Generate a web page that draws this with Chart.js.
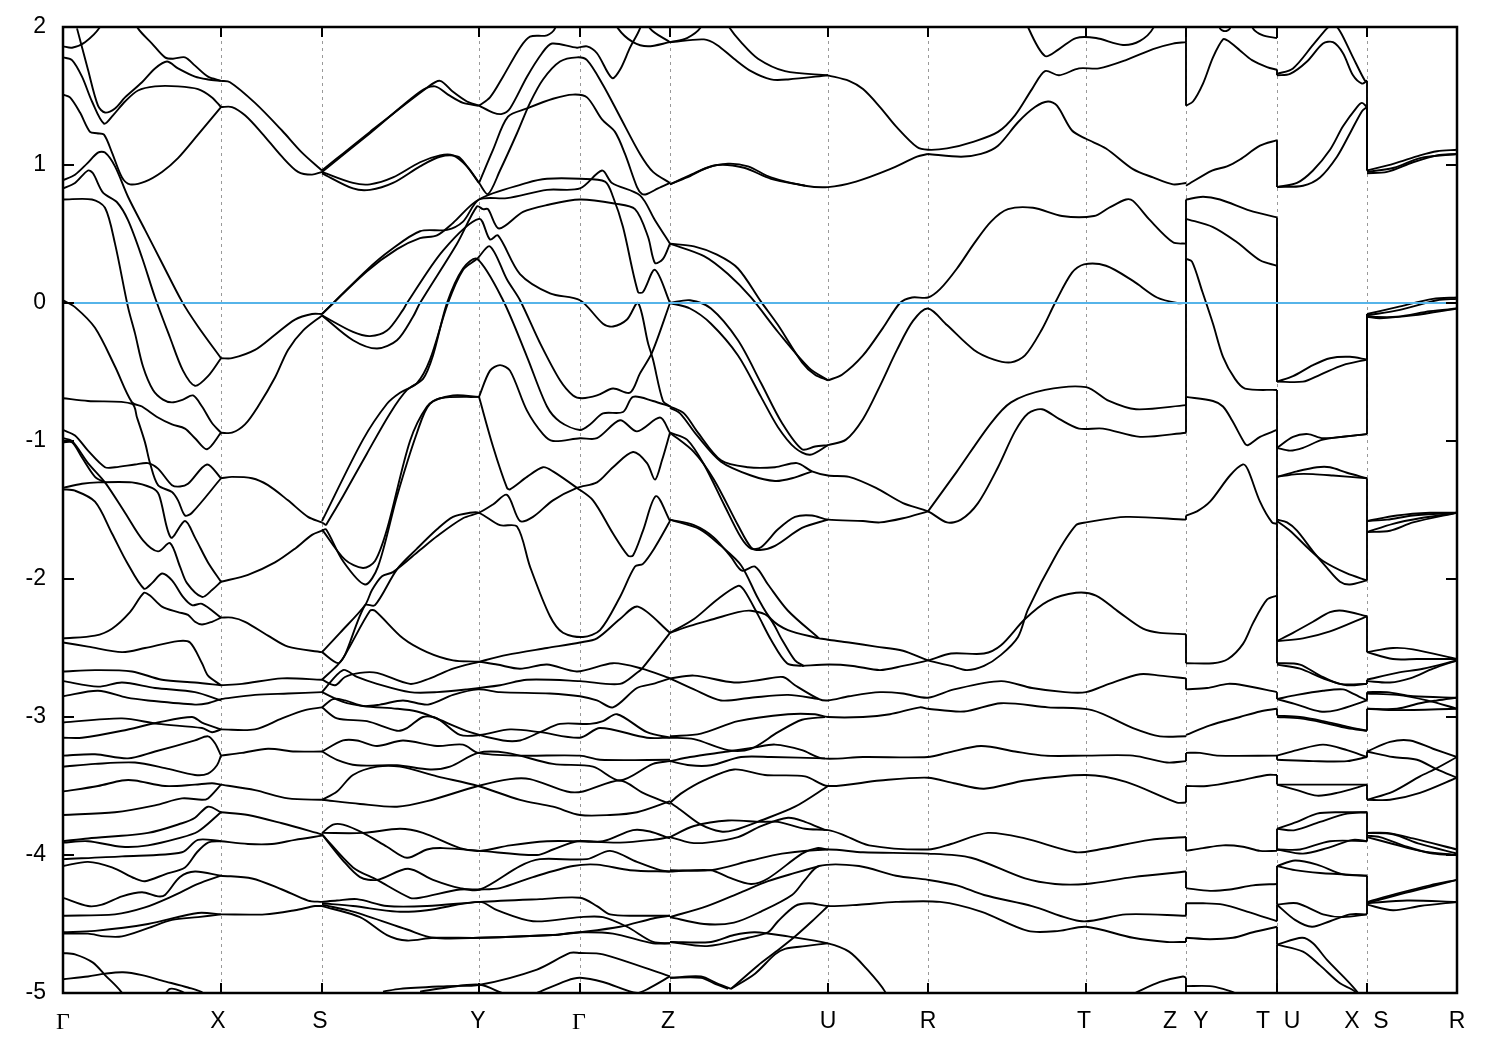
<!DOCTYPE html>
<html>
<head>
<meta charset="utf-8">
<title>Band structure</title>
<script src="https://cdn.jsdelivr.net/npm/chart.js@4/dist/chart.umd.js"></script>
<style>
  html, body { margin: 0; padding: 0; background: #fff; }
  canvas { display: block; }
</style>
</head>
<body>
<canvas id="bands" width="1500" height="1050"></canvas>
<script>
// k path positions and labels
const tickK = [0, 158, 259, 416, 517, 607, 765, 865, 1023, 1123, 1214, 1304, 1394];
const labelK = [0, 155, 257, 415, 516, 605, 765, 865, 1021, 1107, 1138, 1200, 1229, 1289, 1318, 1394];
const labelNames = ['Γ', 'X', 'S', 'Y', 'Γ', 'Z', 'U', 'R', 'T', 'Z', 'Y', 'T', 'U', 'X', 'S', 'R'];
const energyMin = -5;
const energyMax = 2;
const zeroK = [0, 1394];
const zeroE = [0, 0];

// every band below is a flat list: k, E, k, E, ...
// Gamma -> X
const gx1 = [0,1.86,9,1.85,22,1.89,37,2.0,50,2.2];
const gx2 = [14,1.99,25,1.69,35,1.43,42,1.38,52,1.41,62,1.49,79,1.60,92,1.70,104,1.75,115,1.70,132,1.64,145,1.62,158,1.61];
const gx3 = [0,1.78,9,1.76,19,1.64,29,1.46,41,1.30,50,1.36,62,1.46,75,1.54,92,1.57,115,1.57,135,1.55,149,1.49,158,1.42];
const gx4 = [60,2.2,75,1.99,89,1.88,102,1.78,110,1.77,122,1.78,132,1.72,145,1.64,158,1.61];
const gx5 = [0,1.51,7,1.49,17,1.38,27,1.24,34,1.23,41,1.22,49,1.09,59,.91,67,.86,82,.88,99,.95,115,1.05,135,1.22,158,1.42];
const gx6 = [0,.89,12,.93,24,1.01,35,1.09,42,1.09,52,.99,65,.77,82,.53,99,.29,119,.01,135,-.17,158,-.40];
const gx7 = [0,.83,12,.87,25,.96,30,.94,40,.80,54,.73,65,.60,79,.33,92,.04,107,-.25,120,-.49,132,-.60,145,-.53,158,-.40];
const gx8 = [0,.75,29,.75,42,.69,52,.43,65,-.03,72,-.22,80,-.46,90,-.63,100,-.70,109,-.72,120,-.70,130,-.67,139,-.75,149,-.87,158,-.94];
const gx9 = [0,.02,12,-.03,32,-.18,52,-.46,69,-.72,79,-.75,95,-.83,109,-.88,122,-.91,132,-.98,144,-1.06,158,-.94];
const gx10 = [0,-.69,25,-.71,69,-.73,74,-.83,82,-1.01,87,-1.16,95,-1.32,109,-1.37,115,-1.43,122,-1.54,129,-1.52,158,-1.27];
const gx11 = [0,-.92,12,-.96,25,-1.07,42,-1.19,52,-1.19,72,-1.17,85,-1.16,95,-1.20,109,-1.32,117,-1.33,125,-1.31,144,-1.17,158,-1.27];
const gx12 = [0,-.98,9,-1.0,25,-1.16,42,-1.30,62,-1.52,80,-1.72,95,-1.80,107,-1.74,117,-1.91,124,-2.03,139,-2.13,149,-2.08,158,-2.02];
const gx13 = [0,-1.01,9,-1.01,19,-1.12,32,-1.26,42,-1.30];
const gx14 = [0,-1.34,19,-1.31,35,-1.30,69,-1.30,89,-1.34,96,-1.39,108,-1.70,122,-1.58,132,-1.70,145,-1.88,158,-2.02];
const gx15 = [0,-1.35,12,-1.36,32,-1.44,49,-1.67,64,-1.88,81,-2.07,89,-2.03,99,-1.96,109,-2.01,120,-2.13,129,-2.19,139,-2.18,158,-2.28];
const gx16 = [0,-2.43,32,-2.41,49,-2.36,67,-2.24,81,-2.10,87,-2.12,99,-2.20,115,-2.24,125,-2.26,132,-2.31,139,-2.33,149,-2.31,158,-2.28];
const gx17 = [0,-2.46,25,-2.49,59,-2.53,82,-2.50,115,-2.45,127,-2.46,139,-2.61,145,-2.70,158,-2.77];
const gx18 = [0,-2.67,32,-2.66,69,-2.67,99,-2.73,132,-2.75,158,-2.77];
const gx19 = [0,-2.74,35,-2.78,59,-2.75,92,-2.79,132,-2.82,158,-2.88];
const gx20 = [0,-2.85,35,-2.81,64,-2.86,85,-2.88,132,-2.91,145,-2.90,158,-2.87];
const gx21 = [0,-3.04,59,-3.01,95,-3.05,139,-3.08,149,-3.11,158,-3.09];
const gx22 = [0,-3.15,19,-3.15,59,-3.10,95,-3.04,129,-3.00,139,-3.04,158,-3.09];
const gx23 = [0,-3.28,32,-3.27,65,-3.30,92,-3.25,132,-3.17,145,-3.14,152,-3.19,158,-3.28];
const gx24 = [0,-3.36,32,-3.34,72,-3.33,102,-3.37,132,-3.42,145,-3.41,154,-3.35,158,-3.28];
const gx25 = [0,-3.54,35,-3.50,59,-3.46,72,-3.46,102,-3.50,132,-3.49,149,-3.48,158,-3.49];
const gx26 = [0,-3.71,52,-3.69,92,-3.64,119,-3.59,139,-3.60,145,-3.59,158,-3.49];
const gx27 = [0,-3.90,25,-3.88,85,-3.84,119,-3.77,132,-3.73,145,-3.65,158,-3.69];
const gx28 = [0,-3.91,25,-3.90,59,-3.94,85,-3.93,115,-3.88,135,-3.83,158,-3.69];
const gx29 = [0,-4.03,59,-4.01,119,-3.98,135,-3.89,158,-3.90];
const gx30 = [0,-4.08,25,-4.05,49,-4.09,72,-4.17,82,-4.19,102,-4.14,122,-4.09,134,-3.98,145,-3.91,158,-3.90];
const gx31 = [0,-4.31,25,-4.37,39,-4.36,59,-4.30,79,-4.27,95,-4.30,102,-4.29,117,-4.16,132,-4.12,158,-4.15];
const gx32 = [0,-4.44,52,-4.43,82,-4.38,109,-4.30,135,-4.21,158,-4.15];
const gx33 = [0,-4.56,32,-4.55,85,-4.50,135,-4.42,158,-4.43];
const gx34 = [0,-4.57,25,-4.57,42,-4.59,59,-4.59,85,-4.53,109,-4.47,135,-4.45,158,-4.43];
const gx35 = [0,-4.71,12,-4.72,30,-4.78,42,-4.87,58,-4.99,65,-5.1];
const gx36 = [0,-4.90,25,-4.88,42,-4.86,60,-4.85,79,-4.87,99,-4.91,125,-4.96,140,-5.0,150,-5.1];
const gx37 = [98,-5.05,107,-4.97,119,-4.99,132,-5.05];

// X -> S
const xs1 = [158,1.61,167,1.60,192,1.45,219,1.25,239,1.09,259,.96];
const xs2 = [158,1.42,169,1.42,182,1.36,199,1.23,219,1.06,235,.95,249,.93,259,.95];
const xs3 = [158,-.40,169,-.40,192,-.34,212,-.23,232,-.12,249,-.08,259,-.08];
const xs4 = [158,-.94,169,-.94,182,-.88,195,-.75,212,-.54,225,-.34,240,-.20,259,-.09];
const xs5 = [158,-1.27,169,-1.26,189,-1.27,205,-1.32,225,-1.43,245,-1.55,259,-1.59];
const xs6 = [158,-2.02,185,-1.97,212,-1.88,232,-1.78,249,-1.68,259,-1.65];
const xs7 = [158,-2.28,169,-2.28,182,-2.31,205,-2.41,225,-2.49,259,-2.53];
const xs8 = [158,-2.77,179,-2.76,219,-2.72,259,-2.73];
const xs9 = [158,-2.87,192,-2.84,225,-2.83,259,-2.82];
const xs10 = [158,-3.09,192,-3.09,219,-3.01,242,-2.95,259,-2.93];
const xs11 = [158,-3.28,179,-3.26,205,-3.23,232,-3.25,259,-3.25];
const xs12 = [158,-3.49,192,-3.53,225,-3.59,259,-3.60];
const xs13 = [158,-3.69,185,-3.71,219,-3.77,259,-3.85];
const xs14 = [158,-3.90,185,-3.92,209,-3.92,232,-3.89,259,-3.86];
const xs15 = [158,-4.15,189,-4.17,219,-4.25,245,-4.33,259,-4.34];
const xs16 = [158,-4.43,202,-4.43,232,-4.40,252,-4.37,259,-4.37];

// S -> Y -> Gamma -> Z
const sz1 = [259,.96,307,1.24,364,1.56,377,1.61,390,1.53,404,1.46,416,1.43];
const sz2 = [259,.95,307,1.23,357,1.53,372,1.57,385,1.51,400,1.45,416,1.43];
const sz3 = [416,1.43,427,1.49,440,1.64,457,1.85,467,1.93,484,1.94,492,1.99,505,2.3];
const sz4 = [416,1.43,430,1.38,439,1.37,447,1.41,464,1.64,479,1.81,489,1.88,514,1.85,524,1.86,534,1.81,549,1.63,557,1.69,567,1.85,577,1.99,590,2.3];
const sz5 = [540,2.2,555,1.99,570,1.89,585,1.86,607,1.89];
const sz6 = [575,2.2,587,1.99,607,1.89];
const sz7 = [259,.95,290,.87,307,.86,330,.91,357,1.02,377,1.07,390,1.07,404,.99,416,.87];
const sz8 = [259,.94,290,.83,307,.82,330,.87,357,.99,377,1.06,395,1.06,404,.99,416,.87];
const sz9 = [416,.87,425,.79,437,.96,454,1.23,467,1.45,480,1.62,497,1.75,514,1.78,524,1.76,540,1.58,557,1.35,577,1.08,590,.95,607,.87];
const sz10 = [416,.87,430,1.11,445,1.35,464,1.41,490,1.48,510,1.51,524,1.49,539,1.33,552,1.24,562,1.08,574,.84,579,.79,584,.79,595,.83,607,.87];
const sz11 = [259,-.08,304,.24,327,.38,357,.52,384,.53,400,.59,416,.75,464,.87,484,.90,517,.90,542,.88,550,.77,560,.55,575,.08,580,.08,592,.24,607,0];
const sz12 = [259,-.08,304,.23,334,.39,357,.47,374,.49,390,.58,416,.75,444,.76,484,.82,517,.83,539,.96,549,.87,577,.78,592,.60,607,.43];
const sz13 = [259,-.09,290,-.21,307,-.24,324,-.2,340,-.05,344,0,380,.38,416,.61,427,.46,435,.49,457,.21,487,.07,517,.02,540,-.15,550,-.17,564,-.12,575,0,585,-.29,590,-.41,600,-.71,607,-.75];
const sz14 = [259,-.09,290,-.27,314,-.33,334,-.27,350,-.10,357,0,394,.43,414,.70,420,.68,425,.68,436,.54,460,.66,484,.71,517,.75,552,.72,572,.68,585,.48,592,.29,600,.32,607,.43];
const sz15 = [259,-1.58,300,-.99,324,-.73,337,-.65,354,-.58,367,-.41,385,0,400,.24,414,.32,427,.41,444,.17,457,.02,477,-.29,497,-.56,510,-.67,519,-.69,534,-.67,550,-.62,567,-.65,577,-.51,589,-.36,607,0];
const sz16 = [263,-1.61,280,-1.40,304,-1.09,327,-.80,344,-.63,360,-.55,370,-.38,384,0,400,.25,414,.32,440,.02,464,-.39,484,-.75,497,-.86,517,-.92,527,-.88,540,-.80,560,-.79,570,-.68,590,-.71,607,-.75];
const sz17 = [259,-1.59,263,-1.61];
const sz18 = [259,-1.64,282,-1.86,300,-1.92,312,-1.87,324,-1.64,347,-1.0,364,-.75,377,-.69,416,-.68];
const sz19 = [259,-1.65,263,-1.64,280,-1.87,302,-2.04,315,-1.91,334,-1.40,354,-.94,367,-.73,390,-.67,416,-.68];
const sz20 = [416,-.68,427,-.49,437,-.45,447,-.49,464,-.78,480,-.95,490,-1.0,517,-.98,534,-.98,557,-.85,574,-.93,597,-.83,607,-.94];
const sz21 = [416,-.68,430,-1.04,444,-1.34,447,-1.35,464,-1.26,480,-1.19,490,-1.22,514,-1.34,530,-1.43,550,-1.67,565,-1.83,570,-1.83,580,-1.65,593,-1.40,607,-1.58];
const sz22 = [259,-2.53,277,-2.39,302,-2.19,309,-2.08,319,-1.98,330,-1.95,357,-1.79,374,-1.69,400,-1.56,416,-1.52,430,-1.46,444,-1.39,457,-1.58,470,-1.55,490,-1.43,514,-1.34,534,-1.30,550,-1.19,570,-1.08,584,-1.16,592,-1.28,599,-1.14,607,-.94];
const sz23 = [259,-2.73,275,-2.62,282,-2.55,302,-2.19,312,-2.19,334,-1.93,354,-1.78,374,-1.64,390,-1.55,407,-1.52,416,-1.52,437,-1.61,454,-1.62,467,-1.91,487,-2.27,500,-2.39,520,-2.42,537,-2.37,557,-2.13,572,-1.91,580,-1.89,592,-1.77,607,-1.58];
const sz24 = [259,-2.53,275,-2.61,282,-2.55,307,-2.23,312,-2.23,340,-2.43,364,-2.53,390,-2.59,416,-2.60,434,-2.62,457,-2.65,484,-2.62,514,-2.67,550,-2.61,579,-2.65,607,-2.72];
const sz25 = [259,-2.73,272,-2.77,282,-2.71,297,-2.68,314,-2.68,347,-2.76,367,-2.72,390,-2.65,416,-2.60,444,-2.55,484,-2.50,517,-2.46,534,-2.43,557,-2.29,575,-2.20,607,-2.39];
const sz26 = [259,-2.82,280,-2.66,294,-2.71,314,-2.76,347,-2.82,374,-2.82,404,-2.80,437,-2.77,464,-2.73,517,-2.74,557,-2.76,574,-2.68,579,-2.65,607,-2.39];
const sz27 = [259,-2.82,280,-2.89,300,-2.92,334,-2.94,354,-2.96,370,-3.0,407,-3.11,440,-3.17,457,-3.17,477,-3.11,497,-3.05,527,-3.05,540,-3.03,554,-2.98,584,-3.11,607,-3.15];
const sz28 = [259,-2.93,270,-2.87,282,-2.88,300,-2.92,317,-2.91,340,-2.88,365,-2.91,390,-2.84,415,-2.80,437,-2.82,487,-2.83,517,-2.85,534,-2.88,550,-2.93,574,-2.79,590,-2.76,607,-2.72];
const sz29 = [259,-2.93,274,-3.01,304,-3.03,334,-3.10,344,-3.08,360,-3.0,374,-3.01,397,-3.13,417,-3.13,447,-3.09,477,-3.11,517,-3.15,537,-3.08,584,-3.15,607,-3.15];
const sz30 = [259,-3.25,280,-3.17,294,-3.17,314,-3.21,340,-3.17,374,-3.21,400,-3.20,415,-3.26,457,-3.28,517,-3.28,537,-3.31,607,-3.31];
const sz31 = [259,-3.25,274,-3.31,294,-3.35,334,-3.35,367,-3.38,387,-3.36,415,-3.26,444,-3.26,490,-3.34,530,-3.36,557,-3.46,590,-3.34,607,-3.32];
const sz32 = [259,-3.60,274,-3.54,290,-3.42,314,-3.36,337,-3.36,374,-3.43,415,-3.50,457,-3.60,490,-3.65,517,-3.71,547,-3.71,574,-3.69,607,-3.61];
const sz33 = [259,-3.60,297,-3.63,334,-3.65,364,-3.61,415,-3.50,447,-3.45,467,-3.45,504,-3.54,520,-3.54,557,-3.46,580,-3.55,607,-3.63];
const sz34 = [259,-3.84,270,-3.78,280,-3.78,300,-3.84,324,-3.94,344,-4.02,364,-3.96,380,-3.95,417,-3.97,474,-4.0,490,-3.96,514,-3.90,540,-3.90,570,-3.82,587,-3.83,607,-3.88];
const sz35 = [259,-3.84,300,-3.84,337,-3.81,360,-3.84,397,-3.95,417,-3.97,447,-3.93,484,-3.90,514,-3.90,557,-3.91,590,-3.89,607,-3.87];
const sz36 = [259,-3.85,280,-4.04,297,-4.16,314,-4.18,345,-4.10,370,-4.18,397,-4.24,417,-4.25,457,-4.08,477,-4.03,524,-4.03,547,-3.97,574,-4.05,597,-4.11,607,-4.12];
const sz37 = [259,-3.85,290,-4.09,314,-4.18,347,-4.31,357,-4.31,397,-4.25,417,-4.25,437,-4.24,470,-4.16,510,-4.08,534,-4.07,567,-4.11,607,-4.12];
const sz38 = [259,-4.34,274,-4.33,294,-4.32,324,-4.37,364,-4.37,417,-4.34,477,-4.32,517,-4.31,534,-4.37,547,-4.43,574,-4.44,607,-4.44];
const sz39 = [259,-4.35,290,-4.37,334,-4.41,364,-4.40,417,-4.34,434,-4.40,470,-4.48,517,-4.45,540,-4.45,564,-4.52,590,-4.63,607,-4.64];
const sz40 = [259,-4.36,290,-4.41,344,-4.54,370,-4.60,417,-4.60,490,-4.58,517,-4.56,557,-4.52,590,-4.46,607,-4.44];
const sz41 = [259,-4.37,297,-4.45,324,-4.58,344,-4.62,370,-4.60,417,-4.60,490,-4.58,517,-4.56,550,-4.57,590,-4.64,607,-4.64];
const sz42 = [320,-4.99,337,-4.97,384,-4.95,417,-4.94,474,-4.83,507,-4.71,517,-4.71,540,-4.72,607,-4.88];
const sz43 = [357,-4.99,384,-4.96,417,-4.94,439,-5.0];
const sz44 = [474,-5.0,504,-4.91,517,-4.89,540,-4.92,574,-5.0,585,-4.97,607,-4.88];

// Z -> U -> R -> T -> Z
const zz1 = [650,2.2,666,2.0,678,1.89,695,1.77,722,1.68,765,1.65];
const zz2 = [607,1.89,641,1.91,654,1.87,671,1.77,688,1.68,708,1.62,725,1.62,765,1.65];
const zz3 = [607,1.89,624,1.92,638,2.0,650,2.2];
const zz4 = [765,1.65,786,1.61,800,1.55,817,1.42,833,1.28,854,1.13,865,1.11,884,1.12,911,1.17,935,1.24,952,1.36,969,1.55,982,1.68,996,1.65,1016,1.70,1036,1.70,1063,1.76,1090,1.84,1110,1.88,1123,1.89];
const zz5 = [865,1.08,898,1.06,918,1.08,935,1.14,955,1.31,972,1.42,985,1.46,994,1.43,1009,1.25,1023,1.19,1043,1.12,1070,.97,1090,.91,1110,.86,1123,.87];
const zz6 = [607,.86,624,.91,644,.98,665,1.01,685,.99,708,.91,742,.85,765,.84,793,.88,827,.97,854,1.06,865,1.08];
const zz7 = [607,.86,631,.94,654,1.0,681,.98,708,.90,742,.85];
const zz8 = [950,2.3,965,2.0,982,1.79,996,1.84,1013,1.92,1033,1.92,1060,1.87,1077,1.90,1090,1.99,1100,2.2];
const zz9 = [607,.43,631,.41,654,.35,675,.25,698,.01,715,-.16,739,-.43,752,-.52,765,-.56];
const zz10 = [607,.43,641,.34,665,.21,688,.04,715,-.21,746,-.47,765,-.56];
const zz11 = [765,-.56,779,-.52,800,-.38,820,-.18,837,0,849,.04,865,.04,877,.10,894,.25,911,.43,928,.59,945,.68,970,.69,999,.63,1031,.63,1046,.69,1063,.75,1070,.74,1087,.60,1110,.44,1123,.43];
const zz12 = [607,0,627,.02,648,-.04,675,-.27,698,-.58,719,-.87,739,-1.06,752,-1.04,765,-1.03];
const zz13 = [607,0,627,-.04,648,-.15,675,-.38,698,-.68,715,-.90,732,-1.05,747,-1.10,765,-1.03];
const zz14 = [765,-1.03,783,-.99,800,-.84,817,-.60,834,-.34,850,-.13,865,-.04,884,-.16,911,-.34,931,-.41,948,-.43,962,-.38,979,-.19,992,0,1009,.22,1021,.28,1043,.27,1070,.16,1094,.04,1114,0,1123,0];
const zz15 = [607,-.75,621,-.80,634,-.93,658,-1.14,685,-1.19,712,-1.19,734,-1.16,749,-1.22,765,-1.25,786,-1.26,813,-1.34,840,-1.45,865,-1.51,884,-1.59,898,-1.57,915,-1.45,935,-1.19,952,-.93,965,-.80,979,-.77,996,-.84,1016,-.91,1040,-.91,1077,-.97,1123,-.94];
const zz16 = [607,-.76,617,-.80,634,-.96,658,-1.15,688,-1.25,712,-1.29,729,-1.27,749,-1.22];
const zz17 = [865,-1.51,894,-1.22,928,-.87,948,-.72,982,-.63,1023,-.61,1046,-.71,1073,-.77,1123,-.74];
const zz18 = [607,-.94,624,-.99,641,-1.17,661,-1.46,678,-1.70,688,-1.78,698,-1.77,715,-1.64,732,-1.55,749,-1.54,765,-1.57,800,-1.58,817,-1.59,840,-1.56,865,-1.51];
const zz19 = [607,-.94,631,-1.08,651,-1.28,675,-1.61,688,-1.77,697,-1.79,712,-1.76,739,-1.63,765,-1.57];
const zz20 = [607,-1.57,631,-1.61,651,-1.70,668,-1.84,679,-1.94,692,-1.91,705,-2.04,725,-2.23,756,-2.43];
const zz21 = [607,-1.57,637,-1.64,658,-1.76,678,-1.90,695,-2.14,708,-2.29,725,-2.37,756,-2.43];
const zz22 = [756,-2.43,765,-2.44,786,-2.46,813,-2.49,840,-2.52,865,-2.59,888,-2.63,904,-2.66,921,-2.63,938,-2.55,955,-2.42,965,-2.22,992,-1.84,1013,-1.61,1023,-1.59,1063,-1.55,1123,-1.57];
const zz23 = [739,-2.63,766,-2.62,790,-2.63,817,-2.66,840,-2.63,865,-2.59,888,-2.54,921,-2.54,938,-2.48,962,-2.29,985,-2.16,1013,-2.10,1033,-2.12,1056,-2.24,1080,-2.36,1097,-2.39,1123,-2.40];
const zz24 = [607,-2.39,631,-2.29,654,-2.15,675,-2.05,681,-2.08,695,-2.26,708,-2.44,724,-2.61,739,-2.63];
const zz25 = [607,-2.39,627,-2.34,651,-2.29,675,-2.24,688,-2.23,705,-2.27,719,-2.44,732,-2.59,741,-2.63];
const zz26 = [607,-2.72,631,-2.70,671,-2.75,698,-2.73,720,-2.71,732,-2.77,756,-2.87,765,-2.88,786,-2.85,817,-2.82,840,-2.83,865,-2.86,891,-2.80,938,-2.74,969,-2.79,1002,-2.82,1023,-2.82,1046,-2.76,1077,-2.69,1097,-2.70,1123,-2.72];
const zz27 = [607,-2.72,631,-2.80,658,-2.88,688,-2.86,725,-2.84,756,-2.87];
const zz28 = [607,-3.14,638,-3.12,675,-3.03,725,-2.98,752,-2.98,765,-3.0,800,-3.0,827,-2.98,857,-2.93,865,-2.94,901,-2.96,938,-2.90,985,-2.93,1029,-2.95,1070,-3.08,1097,-3.14,1123,-3.14];
const zz29 = [607,-3.15,631,-3.16,665,-3.24,688,-3.23,715,-3.11,739,-3.02,762,-3.0];
const zz30 = [607,-3.32,627,-3.29,665,-3.25,692,-3.22,712,-3.20,739,-3.24,759,-3.30,800,-3.29,865,-3.29,884,-3.26,918,-3.21,952,-3.25,982,-3.28,1023,-3.28,1070,-3.28,1104,-3.33,1123,-3.32];
const zz31 = [607,-3.32,627,-3.35,648,-3.35,678,-3.29,708,-3.29,762,-3.30];
const zz32 = [607,-3.62,619,-3.55,641,-3.46,671,-3.38,702,-3.42,742,-3.43,765,-3.50,817,-3.46,865,-3.44,891,-3.48,921,-3.52,962,-3.46,1023,-3.42,1063,-3.47,1114,-3.62,1123,-3.62];
const zz33 = [607,-3.62,617,-3.67,638,-3.78,658,-3.83,671,-3.82,698,-3.75,732,-3.65,765,-3.50];
const zz34 = [607,-3.87,631,-3.79,665,-3.75,698,-3.76,715,-3.76,742,-3.81,765,-3.82,779,-3.85,806,-3.93,865,-3.96,888,-3.92,925,-3.84,962,-3.88,1013,-3.98,1036,-3.96,1087,-3.89,1123,-3.87];
const zz35 = [607,-3.87,627,-3.91,644,-3.91,675,-3.87,698,-3.79,725,-3.73,742,-3.76,762,-3.82];
const zz36 = [607,-4.11,648,-4.11,688,-4.04,719,-3.99,765,-3.96,800,-3.98,865,-3.99,908,-4.02,962,-4.17,992,-4.21,1023,-4.21,1070,-4.16,1123,-4.12];
const zz37 = [607,-4.12,648,-4.11,665,-4.16,688,-4.21,705,-4.17,739,-3.99,754,-3.95,765,-3.96];
const zz38 = [607,-4.45,641,-4.50,671,-4.49,698,-4.41,729,-4.29,742,-4.18,756,-4.08,796,-4.08,833,-4.15,865,-4.18,894,-4.22,921,-4.29,969,-4.37,1019,-4.48,1063,-4.43,1123,-4.44];
const zz39 = [607,-4.45,644,-4.37,678,-4.27,705,-4.19,732,-4.13,756,-4.08];
const zz40 = [607,-4.63,648,-4.63,671,-4.58,692,-4.56,725,-4.59,765,-4.64,786,-4.70,803,-4.82,822,-4.99,830,-5.15];
const zz41 = [607,-4.63,644,-4.66,685,-4.60,705,-4.56,715,-4.48,732,-4.37,746,-4.35,765,-4.37,796,-4.36,833,-4.34,877,-4.34,918,-4.41,965,-4.55,996,-4.55,1023,-4.52,1070,-4.60,1104,-4.63,1123,-4.63];
const zz42 = [668,-4.97,695,-4.80,713,-4.70,732,-4.59,749,-4.48,765,-4.37];
const zz43 = [668,-4.97,692,-4.86,712,-4.72,722,-4.68,742,-4.66,765,-4.64];
const zz44 = [607,-4.89,638,-4.88,654,-4.93,668,-4.97];
const zz45 = [607,-4.89,638,-4.89,651,-4.93,665,-4.97];
const zz46 = [1072,-5.0,1097,-4.92,1120,-4.88,1123,-4.89];

// Y -> T
const yt1 = [1123,1.43,1130,1.46,1140,1.59,1150,1.78,1160,1.91,1165,1.90,1177,1.83,1189,1.76,1204,1.71,1214,1.69];
const yt2 = [1150,2.2,1157,1.99,1162,1.97,1167,1.99,1175,2.2];
const yt3 = [1178,2.2,1190,1.99,1200,1.94,1214,1.92];
const yt4 = [1123,.85,1149,.96,1164,.99,1177,1.04,1197,1.14,1214,1.18];
const yt5 = [1123,.75,1140,.77,1157,.75,1187,.67,1214,.62];
const yt6 = [1123,.61,1150,.55,1174,.44,1197,.31,1214,.27];
const yt7 = [1123,.32,1129,.30,1139,.09,1150,-.15,1160,-.39,1172,-.55,1182,-.62,1214,-.63];
const yt8 = [1123,-.68,1150,-.71,1160,-.75,1169,-.85,1182,-1.02,1185,-1.03,1197,-.97,1214,-.92];
const yt9 = [1123,-1.54,1134,-1.51,1147,-1.44,1167,-1.25,1180,-1.17,1185,-1.21,1197,-1.44,1209,-1.59,1214,-1.60];
const yt10 = [1123,-2.61,1150,-2.61,1165,-2.58,1180,-2.47,1190,-2.32,1204,-2.15,1214,-2.12];
const yt11 = [1123,-2.80,1144,-2.79,1165,-2.76,1180,-2.77,1214,-2.82];
const yt12 = [1123,-3.13,1147,-3.06,1177,-3.0,1197,-2.96,1214,-2.94];
const yt13 = [1123,-3.26,1137,-3.26,1154,-3.28,1214,-3.28];
const yt14 = [1123,-3.50,1144,-3.50,1177,-3.46,1204,-3.42,1214,-3.42];
const yt15 = [1123,-3.97,1140,-3.95,1160,-3.93,1180,-3.94,1197,-3.97,1214,-3.97];
const yt16 = [1123,-4.24,1147,-4.26,1167,-4.25,1190,-4.22,1214,-4.21];
const yt17 = [1123,-4.35,1140,-4.35,1160,-4.36,1184,-4.41,1214,-4.48];
const yt18 = [1123,-4.60,1147,-4.61,1170,-4.60,1190,-4.56,1214,-4.52];
const yt19 = [1123,-4.95,1147,-4.95,1160,-4.97,1172,-5.0,1182,-5.05];

// U -> X
const ux1 = [1214,1.66,1230,1.70,1250,1.87,1264,1.99,1270,2.02,1277,1.97,1290,1.78,1302,1.61,1304,1.61];
const ux2 = [1214,1.65,1227,1.66,1244,1.75,1260,1.88,1270,1.89,1280,1.81,1290,1.65,1299,1.59,1304,1.61];
const ux3 = [1214,.84,1234,.87,1250,.96,1267,1.11,1280,1.28,1294,1.42,1299,1.45,1304,1.42];
const ux4 = [1214,.84,1240,.85,1257,.91,1274,1.06,1287,1.23,1299,1.39,1304,1.42];
const ux5 = [1214,-.57,1230,-.53,1250,-.45,1267,-.40,1287,-.39,1304,-.41];
const ux6 = [1214,-.57,1240,-.57,1257,-.52,1280,-.45,1304,-.41];
const ux7 = [1214,-1.05,1230,-.97,1245,-.95,1260,-.98,1304,-.95];
const ux8 = [1214,-1.05,1227,-1.07,1240,-1.05,1260,-.99,1304,-.95];
const ux9 = [1214,-1.26,1234,-1.24,1250,-1.24,1270,-1.25,1304,-1.27];
const ux10 = [1214,-1.26,1234,-1.22,1254,-1.19,1267,-1.19,1284,-1.23,1304,-1.27];
const ux11 = [1214,-1.57,1224,-1.59,1234,-1.65,1250,-1.80,1264,-1.92,1277,-2.02,1287,-2.04,1304,-2.01];
const ux12 = [1214,-1.58,1227,-1.65,1247,-1.79,1260,-1.87,1284,-1.96,1304,-2.01];
const ux13 = [1214,-2.45,1230,-2.39,1250,-2.31,1267,-2.24,1280,-2.23,1304,-2.27];
const ux14 = [1214,-2.45,1240,-2.43,1267,-2.38,1304,-2.27];
const ux15 = [1214,-2.61,1237,-2.62,1257,-2.70,1277,-2.76,1304,-2.76];
const ux16 = [1214,-2.62,1237,-2.65,1260,-2.72,1284,-2.77,1304,-2.76];
const ux17 = [1214,-2.87,1234,-2.84,1260,-2.81,1280,-2.80,1290,-2.83,1304,-2.88];
const ux18 = [1214,-2.87,1234,-2.91,1257,-2.96,1274,-2.95,1304,-2.88];
const ux19 = [1214,-2.99,1237,-3.0,1260,-3.03,1284,-3.07,1304,-3.10];
const ux20 = [1214,-3.0,1237,-3.01,1260,-3.04,1284,-3.08,1304,-3.10];
const ux21 = [1214,-3.28,1234,-3.24,1260,-3.20,1284,-3.24,1304,-3.29];
const ux22 = [1214,-3.31,1250,-3.32,1284,-3.32,1304,-3.29];
const ux23 = [1214,-3.49,1234,-3.49,1267,-3.49,1304,-3.49];
const ux24 = [1214,-3.49,1234,-3.53,1254,-3.57,1274,-3.55,1304,-3.49];
const ux25 = [1214,-3.81,1234,-3.76,1254,-3.70,1277,-3.69,1304,-3.69];
const ux26 = [1214,-3.81,1232,-3.82,1257,-3.76,1284,-3.70,1304,-3.69];
const ux27 = [1214,-3.96,1237,-3.96,1267,-3.90,1304,-3.90];
const ux28 = [1214,-3.96,1240,-3.99,1264,-3.95,1290,-3.89,1304,-3.90];
const ux29 = [1214,-4.08,1232,-4.04,1254,-4.07,1280,-4.14,1304,-4.15];
const ux30 = [1214,-4.08,1232,-4.11,1257,-4.13,1304,-4.15];
const ux31 = [1214,-4.36,1234,-4.35,1260,-4.43,1280,-4.45,1304,-4.43];
const ux32 = [1214,-4.36,1232,-4.47,1249,-4.52,1267,-4.48,1287,-4.43,1304,-4.43];
const ux33 = [1214,-4.65,1239,-4.60,1250,-4.64,1264,-4.76,1294,-4.99,1300,-5.1];
const ux34 = [1214,-4.65,1240,-4.70,1257,-4.80,1277,-4.93,1292,-4.99,1298,-5.1];

// S -> R
const sr1 = [1304,.96,1331,1.01,1357,1.07,1374,1.10,1394,1.11];
const sr2 = [1304,.95,1331,.98,1357,1.05,1394,1.08];
const sr3 = [1304,.94,1324,.95,1350,1.02,1374,1.07,1394,1.08];
const sr4 = [1304,-.08,1334,-.03,1370,.03,1394,.04];
const sr5 = [1304,-.09,1337,-.05,1374,.02,1394,.03];
const sr6 = [1304,-.10,1317,-.11,1350,-.09,1394,-.04];
const sr7 = [1304,-.10,1334,-.10,1367,-.06,1394,-.04];
const sr8 = [1304,-1.58,1334,-1.54,1367,-1.52,1394,-1.52];
const sr9 = [1304,-1.66,1327,-1.65,1350,-1.59,1394,-1.52];
const sr10 = [1304,-1.58,1324,-1.57,1350,-1.54,1394,-1.52];
const sr11 = [1304,-1.66,1330,-1.60,1357,-1.56,1394,-1.52];
const sr12 = [1304,-2.53,1330,-2.50,1350,-2.51,1394,-2.58];
const sr13 = [1304,-2.53,1330,-2.58,1354,-2.58,1394,-2.58];
const sr14 = [1304,-2.73,1334,-2.68,1360,-2.65,1394,-2.59];
const sr15 = [1304,-2.74,1327,-2.75,1347,-2.72,1370,-2.65,1394,-2.59];
const sr16 = [1304,-2.82,1324,-2.82,1350,-2.85,1394,-2.86];
const sr17 = [1304,-2.83,1334,-2.84,1364,-2.88,1394,-2.94];
const sr18 = [1304,-2.94,1334,-2.94,1357,-2.90,1374,-2.88,1394,-2.86];
const sr19 = [1304,-2.94,1334,-2.95,1394,-2.94];
const sr20 = [1304,-3.25,1327,-3.18,1347,-3.17,1370,-3.23,1394,-3.29];
const sr21 = [1304,-3.25,1330,-3.29,1354,-3.31,1374,-3.38,1394,-3.44];
const sr22 = [1304,-3.60,1330,-3.54,1357,-3.43,1374,-3.37,1394,-3.29];
const sr23 = [1304,-3.60,1327,-3.60,1357,-3.55,1394,-3.44];
const sr24 = [1304,-3.84,1324,-3.84,1350,-3.88,1394,-3.96];
const sr25 = [1304,-3.84,1330,-3.85,1357,-3.92,1394,-3.99];
const sr26 = [1304,-3.86,1317,-3.87,1344,-3.94,1370,-3.99,1394,-4.0];
const sr27 = [1304,-3.87,1330,-3.92,1357,-3.97,1394,-4.0];
const sr28 = [1304,-4.34,1334,-4.28,1367,-4.22,1394,-4.18];
const sr29 = [1304,-4.35,1334,-4.29,1367,-4.23,1394,-4.18];
const sr30 = [1304,-4.36,1330,-4.40,1357,-4.37,1394,-4.34];
const sr31 = [1304,-4.35,1344,-4.33,1394,-4.34];

// band jumps where the k path is broken, pairs of energies
const jumpZY = [2.2,1.89, 1.89,1.43, .43,.75, 0,.61, -.74,.32, -.94,-.68, -1.57,-1.54, -2.40,-2.61, -2.72,-2.80, -3.32,-3.26, -3.62,-3.50, -3.87,-3.97, -4.12,-4.24, -4.44,-4.35, -4.63,-4.60, -4.89,-4.95];
const jumpTU = [2.2,1.92, 1.69,1.65, 1.18,.84, .62,-.57, .27,-.57, -.63,-1.05, -.92,-1.26, -1.60,-1.26, -1.60,-2.45, -2.12,-2.61, -2.82,-2.87, -2.94,-2.99, -3.28,-3.31, -3.42,-3.49, -3.97,-3.81, -4.21,-4.08, -4.21,-4.36, -4.48,-4.36, -4.52,-4.65, -5.1,-4.65];
const jumpXS = [1.61,.96, 1.42,.96, -.41,-.08, -.95,-.08, -1.27,-1.66, -2.01,-1.66, -2.27,-2.53, -2.76,-2.73, -2.88,-2.82, -2.94,-3.10, -3.29,-3.25, -3.49,-3.60, -3.69,-3.84, -3.90,-3.84, -4.15,-4.34, -4.43,-4.34];

const allBands = [
  gx1,gx2,gx3,gx4,gx5,gx6,gx7,gx8,gx9,gx10,gx11,gx12,gx13,gx14,gx15,gx16,gx17,gx18,gx19,gx20,gx21,gx22,gx23,gx24,gx25,gx26,gx27,gx28,gx29,gx30,gx31,gx32,gx33,gx34,gx35,gx36,gx37,
  xs1,xs2,xs3,xs4,xs5,xs6,xs7,xs8,xs9,xs10,xs11,xs12,xs13,xs14,xs15,xs16,
  sz1,sz2,sz3,sz4,sz5,sz6,sz7,sz8,sz9,sz10,sz11,sz12,sz13,sz14,sz15,sz16,sz17,sz18,sz19,sz20,sz21,sz22,sz23,sz24,sz25,sz26,sz27,sz28,sz29,sz30,sz31,sz32,sz33,sz34,sz35,sz36,sz37,sz38,sz39,sz40,sz41,sz42,sz43,sz44,
  zz1,zz2,zz3,zz4,zz5,zz6,zz7,zz8,zz9,zz10,zz11,zz12,zz13,zz14,zz15,zz16,zz17,zz18,zz19,zz20,zz21,zz22,zz23,zz24,zz25,zz26,zz27,zz28,zz29,zz30,zz31,zz32,zz33,zz34,zz35,zz36,zz37,zz38,zz39,zz40,zz41,zz42,zz43,zz44,zz45,zz46,
  yt1,yt2,yt3,yt4,yt5,yt6,yt7,yt8,yt9,yt10,yt11,yt12,yt13,yt14,yt15,yt16,yt17,yt18,yt19,
  ux1,ux2,ux3,ux4,ux5,ux6,ux7,ux8,ux9,ux10,ux11,ux12,ux13,ux14,ux15,ux16,ux17,ux18,ux19,ux20,ux21,ux22,ux23,ux24,ux25,ux26,ux27,ux28,ux29,ux30,ux31,ux32,ux33,ux34,
  sr1,sr2,sr3,sr4,sr5,sr6,sr7,sr8,sr9,sr10,sr11,sr12,sr13,sr14,sr15,sr16,sr17,sr18,sr19,sr20,sr21,sr22,sr23,sr24,sr25,sr26,sr27,sr28,sr29,sr30,sr31
];

function toPoints(flat) {
  const pts = [];
  for (let i = 0; i < flat.length; i += 2) pts.push({ x: flat[i], y: flat[i + 1] });
  return pts;
}

function bandSet(points) {
  return {
    data: points,
    borderColor: '#000',
    borderWidth: 1.9,
    pointRadius: 0,
    showLine: true,
    tension: 0.3
  };
}

function jumpSets(k, pairs) {
  const sets = [];
  for (let i = 0; i < pairs.length; i += 2) {
    sets.push(bandSet([{ x: k, y: pairs[i] }, { x: k, y: pairs[i + 1] }]));
  }
  return sets;
}

// first dataset is painted last, so the Fermi level sits on top of the bands
const datasets = [{
  data: zeroK.map((k, i) => ({ x: k, y: zeroE[i] })),
  borderColor: '#56b4e9',
  borderWidth: 2,
  pointRadius: 0,
  showLine: true
}];
allBands.forEach(b => datasets.push(bandSet(toPoints(b))));
datasets.push(...jumpSets(tickK[9], jumpZY));
datasets.push(...jumpSets(tickK[10], jumpTU));
datasets.push(...jumpSets(tickK[11], jumpXS));

// gnuplot style frame: dashed xtics grid, inward ticks on all sides
const framePlugin = {
  id: 'frame',
  beforeDatasetsDraw(chart) {
    const { ctx, chartArea: a, scales: { x } } = chart;
    ctx.save();
    ctx.strokeStyle = '#999';
    ctx.lineWidth = 1;
    ctx.setLineDash([3, 4]);
    tickK.slice(1, -1).forEach(k => {
      const px = Math.round(x.getPixelForValue(k)) + 0.5;
      ctx.beginPath();
      ctx.moveTo(px, a.top);
      ctx.lineTo(px, a.bottom);
      ctx.stroke();
    });
    ctx.restore();
  },
  afterDatasetsDraw(chart) {
    const { ctx, chartArea: a, scales: { x, y } } = chart;
    ctx.save();
    ctx.strokeStyle = '#000';
    ctx.lineWidth = 2;
    tickK.slice(1, -1).forEach(k => {
      const px = x.getPixelForValue(k);
      ctx.beginPath();
      ctx.moveTo(px, a.top);
      ctx.lineTo(px, a.top + 10);
      ctx.moveTo(px, a.bottom);
      ctx.lineTo(px, a.bottom - 10);
      ctx.stroke();
    });
    for (let e = energyMin + 1; e < energyMax; e++) {
      const py = y.getPixelForValue(e);
      ctx.beginPath();
      ctx.moveTo(a.left, py);
      ctx.lineTo(a.left + 11, py);
      ctx.moveTo(a.right, py);
      ctx.lineTo(a.right - 11, py);
      ctx.stroke();
    }
    ctx.lineWidth = 2.5;
    ctx.strokeRect(a.left, a.top, a.right - a.left, a.bottom - a.top);
    ctx.restore();
  }
};

new Chart(document.getElementById('bands'), {
  type: 'scatter',
  data: { datasets },
  plugins: [framePlugin],
  options: {
    responsive: false,
    animation: false,
    layout: { padding: { top: 27, right: 43, left: 0, bottom: 0 } },
    plugins: { legend: { display: false }, tooltip: { enabled: false } },
    scales: {
      x: {
        type: 'linear',
        min: 0,
        max: 1394,
        grid: { display: false },
        border: { display: false },
        afterBuildTicks: s => { s.ticks = labelK.map(value => ({ value })); },
        afterFit: s => { s.height = 57; },
        ticks: {
          autoSkip: false,
          maxRotation: 0,
          padding: 7,
          color: '#000',
          font: c => labelNames[c.index] === 'Γ'
            ? { family: 'Liberation Serif', size: 24 }
            : { family: 'Liberation Sans', size: 23 },
          callback: v => labelNames[labelK.indexOf(v)]
        }
      },
      y: {
        min: energyMin,
        max: energyMax,
        grid: { display: false },
        border: { display: false },
        afterFit: s => { s.width = 63; },
        ticks: {
          stepSize: 1,
          padding: 9,
          color: '#000',
          font: { family: 'Liberation Sans', size: 23 }
        }
      }
    }
  }
});
</script>
</body>
</html>
